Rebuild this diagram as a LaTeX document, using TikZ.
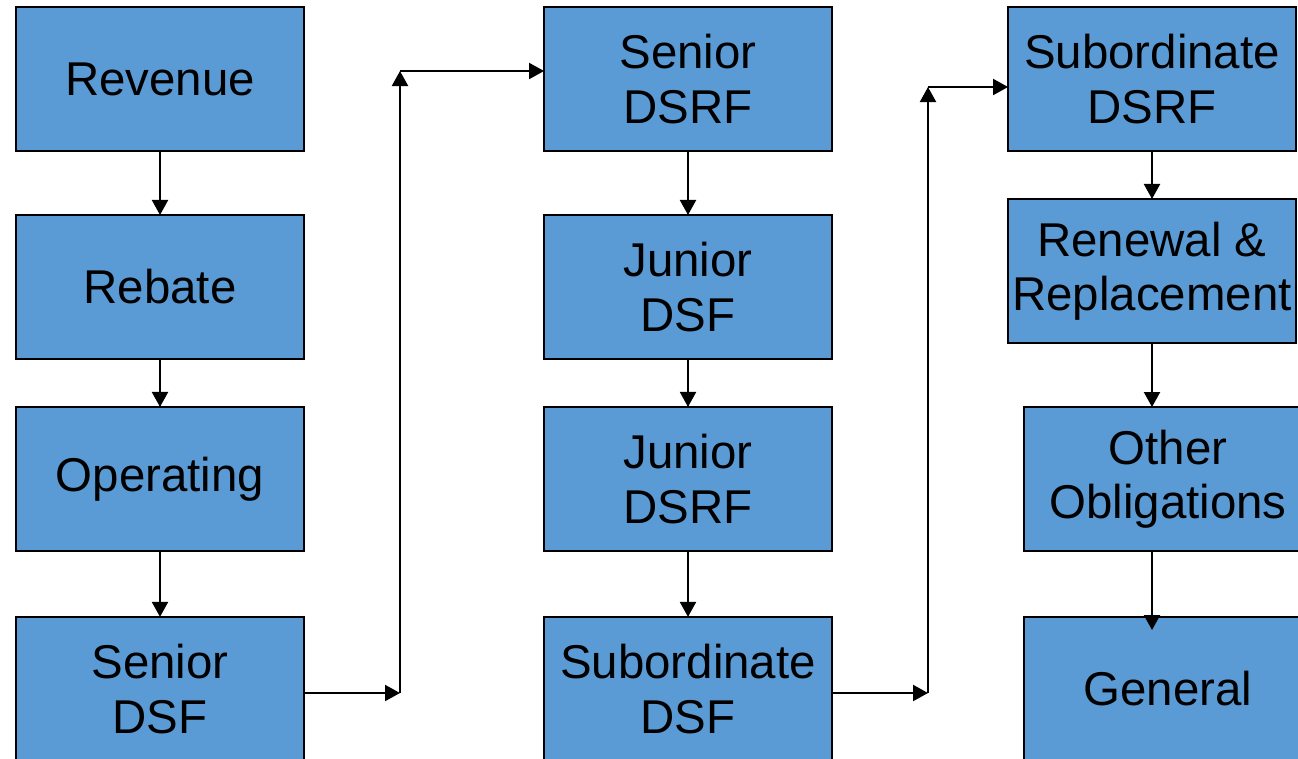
\documentclass[tikz,border=0pt]{standalone}
\usepackage{fontspec}
\setmainfont{Liberation Sans}
\usepackage{xcolor}
\usepackage{tikz}
\usetikzlibrary{arrows.meta,positioning}
\definecolor{fundblue}{HTML}{5B9BD5}

\begin{document}
\begin{tikzpicture}[
  x=0.02cm, y=-0.02cm,
  fund/.style={draw, rectangle, line width=1.2pt, fill=fundblue, minimum width=5.76cm, minimum height=2.88cm, inner sep=0pt, outer sep=0pt, align=center, font=\fontsize{27}{31}\selectfont},
  flow/.style={-{Triangle[length=0.3cm,width=0.32cm]}, line width=1.2pt}
]
\useasboundingbox (0,0) rectangle (1298,758);
\clip (0,0) rectangle (1298,758);

% First column
\node[fund] (revenue) at (160,79) {Revenue};
\node[fund, below=1.28cm of revenue] (rebate) {Rebate};
\node[fund, below=0.96cm of rebate] (operating) {Operating};
\node[fund, below=1.32cm of operating] (srdsf) {Senior\\DSF};

% Second column
\node[fund] (srdsrf) at (688,79) {Senior\\DSRF};
\node[fund, below=1.28cm of srdsrf] (jrdsf) {Junior\\DSF};
\node[fund, below=0.96cm of jrdsf] (jrdsrf) {Junior\\DSRF};
\node[fund, below=1.32cm of jrdsrf] (subdsf) {Subordinate\\DSF};

% Third column
\node[fund] (subdsrf) at (1152,79) {Subordinate\\DSRF};
\node[fund, below=0.96cm of subdsrf] (renewal) {Renewal \&\\Replacement};
\node[fund] (other) at (1168,479) {Other\\Obligations};
\node[fund, below=1.32cm of other] (general) {General};

% Junctions
\coordinate (j1) at (400,693);
\coordinate (j2) at (400,71);
\coordinate (j3) at (928,693);
\coordinate (j4) at (928,87);
\coordinate (gtip) at (1152,630);

% Arrows
\draw[flow] (revenue) -- (rebate);
\draw[flow] (rebate) -- (operating);
\draw[flow] (operating) -- (srdsf);
\draw[flow] (srdsf.east |- j1) -- (j1);
\draw[flow] (j1) -- (j2);
\draw[flow] (j2) -- (j2 -| srdsrf.west);

\draw[flow] (srdsrf) -- (jrdsf);
\draw[flow] (jrdsf) -- (jrdsrf);
\draw[flow] (jrdsrf) -- (subdsf);
\draw[flow] (subdsf.east |- j3) -- (j3);
\draw[flow] (j3) -- (j4);
\draw[flow] (j4) -- (j4 -| subdsrf.west);

\draw[flow] (subdsrf) -- (renewal);
\draw[flow] (renewal.south) -- (renewal.south |- other.north);
\draw[flow] (renewal.south |- other.south) -- (gtip);

\end{tikzpicture}
\end{document}
